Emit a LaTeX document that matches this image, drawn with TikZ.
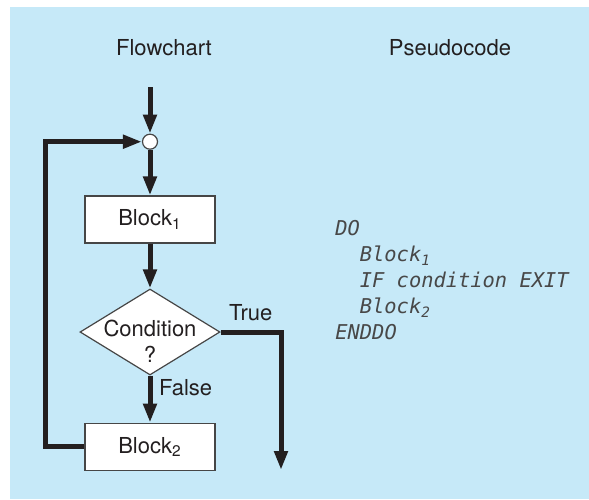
\documentclass[tikz,border=0pt]{standalone}
\usepackage{fontspec}
\setmainfont{TeX Gyre Heros}
\newfontfamily\codefont{DejaVu Sans Mono Oblique}
\usetikzlibrary{arrows.meta,shapes.geometric}
\definecolor{fond}{RGB}{198,233,248}
\definecolor{trait}{RGB}{35,31,32}
\definecolor{bord}{RGB}{70,70,70}
\definecolor{codegris}{RGB}{72,72,72}
\begin{document}
\begin{tikzpicture}[x=0.5pt,y=-0.5pt,font=\fontsize{11}{13}\selectfont,text=trait]
	% Styles
	\tikzstyle{fleche}=[-{Triangle[width=6.5pt,length=9.5pt]},line width=2.5pt,draw=trait]
	\tikzstyle{bloc}=[draw=bord,fill=white,line width=0.6pt,minimum width=65pt,minimum height=23.5pt,inner sep=0pt]
	\tikzstyle{test}=[diamond,draw=bord,fill=white,line width=0.6pt,minimum width=70pt,minimum height=43pt,inner sep=0pt]
	\tikzstyle{jonction}=[circle,draw=bord,fill=white,line width=0.6pt,minimum size=7.5pt,inner sep=0pt]
	\tikzstyle{titre}=[anchor=base]
	\tikzstyle{code}=[anchor=north west,align=left,inner sep=0pt,text=codegris,font=\codefont\fontsize{10.2}{13}\selectfont]
	% Dimensions
	\def\ColonneRetour{45}
	\def\ColonneFlux{150}
	\def\ColonneSortie{281}
	% Fond
	\useasboundingbox (0,0) rectangle (589,499);
	\fill[fond] (10,7) rectangle (589,499);
	% Noeuds
	\node[titre] (tflow) at (164,55) {Flowchart};
	\node[titre] (tpseudo) at (450,55) {Pseudocode};
	\coordinate (entree) at (\ColonneFlux,87);
	\node[jonction] (J) at (\ColonneFlux,141.7) {};
	\node[bloc] (B1) at (\ColonneFlux,219.5) {Block\textsubscript{1}};
	\node[test] (C) at (\ColonneFlux,332) {};
	\node[align=center,yshift=-4.5pt] (Ctexte) at (C.center) {Condition\\?};
	\node[bloc] (B2) at (\ColonneFlux,446.7) {Block\textsubscript{2}};
	\coordinate (coin) at (\ColonneRetour,141.7);
	\coordinate (sortie) at (\ColonneSortie,470);
	\node[code] (pseudo) at (335,220.4) {DO\\
		\hspace*{1.2em}Block\textsubscript{1}\\
		\hspace*{1.2em}IF condition EXIT\\
		\hspace*{1.2em}Block\textsubscript{2}\\
		ENDDO};
	% Arcs
	\draw[fleche] (entree)--(J.north);
	\draw[fleche] (J.south)--(B1.north);
	\draw[fleche] (B1.south)--(C.north);
	\draw[fleche] (C.south)--(B2.north) node[pos=0.25, right]{False};
	\draw[fleche] (B2.west) -| (coin) -- (J.west);
	\draw[fleche] (C.east) -| (sortie) node[pos=0.25, above, yshift=1pt]{True};
\end{tikzpicture}
\end{document}
